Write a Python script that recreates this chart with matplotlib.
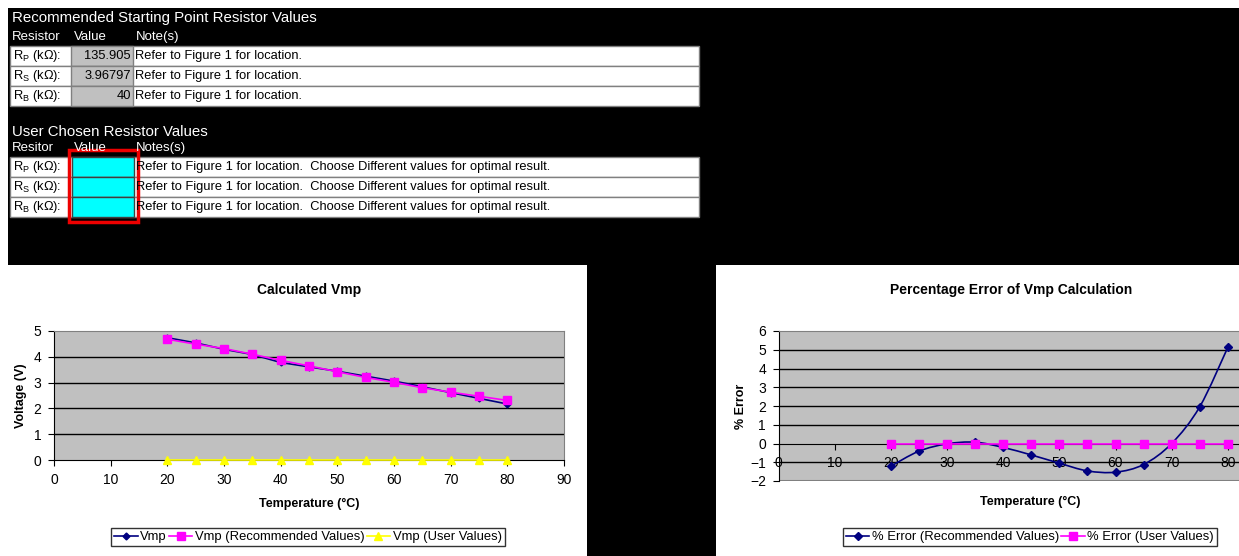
import numpy as np
import matplotlib.pyplot as plt
from matplotlib.patches import Rectangle, PathPatch
from matplotlib.path import Path

plt.rcParams['font.family'] = ['Liberation Sans', 'DejaVu Sans']

# ---- data ----
temps = [20, 25, 30, 35, 40, 45, 50, 55, 60, 65, 70, 75, 80]
vmp = [4.74, 4.54, 4.29, 4.09, 3.78, 3.61, 3.44, 3.25, 3.06, 2.84, 2.61, 2.39, 2.17]
vmp_rec = [4.68, 4.49, 4.32, 4.10, 3.86, 3.65, 3.42, 3.20, 3.01, 2.80, 2.63, 2.47, 2.31]
vmp_user = [0, 0, 0, 0, 0, 0, 0, 0, 0, 0, 0, 0, 0]
err_rec = [-1.21, -0.41, -0.02, 0.07, -0.21, -0.61, -1.05, -1.46, -1.53, -1.12, 0.0, 1.96, 5.13]
err_user = [0, 0, 0, 0, 0, 0, 0, 0, 0, 0, 0, 0, 0]

res_names = ['P', 'S', 'B']
rec_values = ['135.905', '3.96797', '40']
note_rec = 'Refer to Figure 1 for location.'
note_user = 'Refer to Figure 1 for location.  Choose Different values for optimal result.'

W, H = 1239, 556
fig = plt.figure(figsize=(W / 100, H / 100), dpi=100)
fig.patch.set_facecolor('white')


def box(x0, y0, x1, y1, **kw):
    # rectangle in pixel coords, origin top-left
    kw.setdefault('zorder', 0.5)
    fig.add_artist(Rectangle((x0 / W, 1 - y1 / H), (x1 - x0) / W, (y1 - y0) / H,
                             transform=fig.transFigure, **kw))


def put(x, y, s, **kw):
    kw.setdefault('va', 'center')
    fig.text(x / W, 1 - y / H, s, **kw)


# black background blocks
box(8, 8, W, 265, facecolor='black', edgecolor='none')
box(587, 265, 716, H, facecolor='black', edgecolor='none')

row_fs = 9.3

# ---- table 1: recommended values ----
put(12, 18, 'Recommended Starting Point Resistor Values', color='white', fontsize=10.8)
put(12, 37, 'Resistor', color='white', fontsize=9.5)
put(74, 37, 'Value', color='white', fontsize=9.5)
put(136, 37, 'Note(s)', color='white', fontsize=9.5)
for i, (nm, val) in enumerate(zip(res_names, rec_values)):
    top = 46 + 20 * i
    box(10, top, 699, top + 20, facecolor='white', edgecolor='#808080', linewidth=1)
    box(71, top, 133, top + 20, facecolor='#C0C0C0', edgecolor='#808080', linewidth=1)
    put(13, top + 10, r'R$_\mathregular{%s}$ (kΩ):' % nm, fontsize=row_fs)
    put(131, top + 10, val, fontsize=row_fs, ha='right')
    put(135, top + 10, note_rec, fontsize=row_fs)

# ---- table 2: user values ----
put(12, 132, 'User Chosen Resistor Values', color='white', fontsize=10.8)
put(12, 148, 'Resitor', color='white', fontsize=9.5)
put(74, 148, 'Value', color='white', fontsize=9.5)
put(136, 148, 'Notes(s)', color='white', fontsize=9.5)
for i, nm in enumerate(res_names):
    top = 157 + 20 * i
    box(10, top, 699, top + 20, facecolor='white', edgecolor='#808080', linewidth=1)
    box(72, top, 134, top + 20, facecolor='#00FFFF', edgecolor='#404040', linewidth=1)
    put(13, top + 10, r'R$_\mathregular{%s}$ (kΩ):' % nm, fontsize=row_fs)
    put(136, top + 10, note_user, fontsize=row_fs)
box(69, 150, 138, 222, facecolor='none', edgecolor='#EE0000', linewidth=2.5, zorder=2)

# ---- left chart: Calculated Vmp ----
ax1 = fig.add_axes([54 / W, 1 - 460 / H, 510 / W, 129 / H])
ax1.set_facecolor('#C0C0C0')
l1, = ax1.plot(temps, vmp, color='#000080', marker='D', markersize=3.5, lw=1.2, zorder=3)
l2, = ax1.plot(temps, vmp_rec, color='#FF00FF', marker='s', markersize=6, lw=1.2, zorder=4)
l3, = ax1.plot(temps, vmp_user, color='#FFFF00', marker='^', markersize=6, lw=1.2, zorder=5,
               clip_on=False)
ax1.set_xlim(0, 90)
ax1.set_ylim(0, 5)
ax1.set_xticks(range(0, 91, 10))
ax1.set_yticks(range(0, 6))
for v in range(1, 5):
    ax1.axhline(v, color='black', lw=1, zorder=1)
for s in ['top', 'right']:
    ax1.spines[s].set_color('#808080')
for s in ['left', 'bottom']:
    ax1.spines[s].set_color('black')
ax1.tick_params(direction='out', length=4, labelsize=10, pad=5)
ax1.set_title('Calculated Vmp', fontsize=10, fontweight='bold', pad=26.5)
ax1.set_xlabel('Temperature (°C)', fontsize=9, fontweight='bold', labelpad=8)
ax1.set_ylabel('Voltage (V)', fontsize=9, fontweight='bold', labelpad=5)
fig.legend([l1, l2, l3], ['Vmp', 'Vmp (Recommended Values)', 'Vmp (User Values)'],
           loc='center', bbox_to_anchor=(308 / W, 1 - 537 / H), bbox_transform=fig.transFigure,
           ncol=3, fontsize=9.4, frameon=True, fancybox=False, edgecolor='black',
           handlelength=1.8, handletextpad=0.2, columnspacing=0.15, borderpad=0.25,
           borderaxespad=0)

# ---- right chart: Percentage Error (runs past the right edge, as in the screenshot) ----
ax2 = fig.add_axes([778.5 / W, 1 - 481 / H, 505.5 / W, 150 / H])
ax2.set_facecolor('#C0C0C0')
ax2.set_xlim(0, 90)
ax2.set_ylim(-2, 6)
ax2.set_xticks(range(0, 81, 10))
ax2.set_yticks(range(-2, 7))
for v in [-1, 1, 2, 3, 4, 5]:
    ax2.axhline(v, color='black', lw=1, zorder=1)

# smoothed curve through the points (Bezier segments, like the spreadsheet's smooth line)
pts = np.column_stack([temps, err_rec])
ext = np.vstack([pts[0], pts, pts[-1]])
verts = [tuple(pts[0])]
codes = [Path.MOVETO]
for k in range(1, len(ext) - 2):
    p0, p1, p2, p3 = ext[k - 1], ext[k], ext[k + 1], ext[k + 2]
    verts += [tuple(p1 + (p2 - p0) / 6), tuple(p2 - (p3 - p1) / 6), tuple(p2)]
    codes += [Path.CURVE4] * 3
ax2.add_patch(PathPatch(Path(verts, codes), facecolor='none', edgecolor='#000080', lw=1.2, zorder=3))
m1, = ax2.plot(temps, err_rec, color='#000080', marker='D', markersize=4, lw=0, zorder=4)
m2, = ax2.plot(temps, err_user, color='#FF00FF', marker='s', markersize=6, lw=1.2, zorder=4)
h1, = ax2.plot([], [], color='#000080', marker='D', markersize=4, lw=1.2)

ax2.spines['bottom'].set_position(('data', 0))
ax2.spines['bottom'].set_color('black')
ax2.spines['left'].set_color('black')
for s in ['top', 'right']:
    ax2.spines[s].set_color('#808080')
ax2.axhline(-2, color='#808080', lw=1.5, zorder=1)
ax2.tick_params(direction='out', length=4, labelsize=10, pad=5)
ax2.set_title('Percentage Error of Vmp Calculation', fontsize=10, fontweight='bold', pad=26.5,
              x=(1011 - 778.5) / 505.5)
put(1030, 502, 'Temperature (°C)', fontsize=9, fontweight='bold', ha='center')
put(741, 406, '% Error', fontsize=9, fontweight='bold', ha='center', rotation=90)
fig.legend([h1, m2], ['% Error (Recommended Values)', '% Error (User Values)'],
           loc='center', bbox_to_anchor=(1030 / W, 1 - 537 / H), bbox_transform=fig.transFigure,
           ncol=2, fontsize=9.4, frameon=True, fancybox=False, edgecolor='black',
           handlelength=1.8, handletextpad=0.2, columnspacing=0.15, borderpad=0.25,
           borderaxespad=0)

fig.savefig('out.png', dpi=100)
